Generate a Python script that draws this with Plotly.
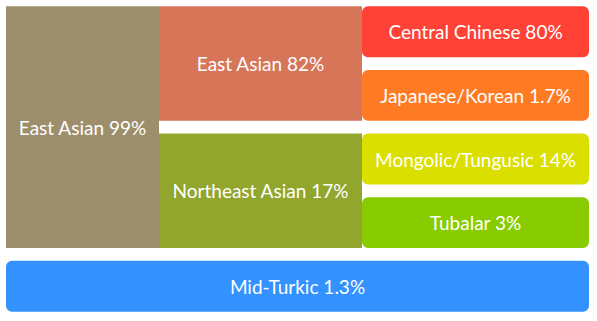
import plotly.graph_objects as go

# ---- data ----
ids = ["ea99", "ea82", "cc", "jk", "nea", "mt", "tub", "mid"]
labels = ["East Asian", "East Asian", "Central Chinese", "Japanese/Korean",
          "Northeast Asian", "Mongolic/Tungusic", "Tubalar", "Mid-Turkic"]
parents = ["", "ea99", "ea82", "ea82", "ea99", "nea", "nea", ""]
percents = [99, 82, 80, 1.7, 17, 14, 3, 1.3]

# ---- style ----
colors = {"ea99": "#9D8E6C", "ea82": "#D67558", "cc": "#FF4136", "jk": "#FF7B23",
          "nea": "#92A62E", "mt": "#DADF00", "tub": "#88CC00", "mid": "#3392FF"}
col_widths = [153, 203, 227]   # width of each hierarchy level column
row_fill = 0.8                 # fraction of a row occupied by a cell

# ---- layout of the hierarchy (computed from the data) ----
children = {i: [c for c, p in zip(ids, parents) if p == i] for i in ids}
roots = [i for i, p in zip(ids, parents) if p == ""]
info = {}
row = [0]


def walk(node, depth):
    start = row[0]
    if not children[node]:
        row[0] += 1
    for ch in children[node]:
        walk(ch, depth + 1)
    info[node] = (depth, start, row[0] - start)


for r in roots:
    walk(r, 0)
n_rows = row[0]


def fmt(p):
    return f"{p:g}%"


traces = {True: dict(y=[], x=[], base=[], width=[], text=[], color=[]),
          False: dict(y=[], x=[], base=[], width=[], text=[], color=[])}
for nid, lab, pct in zip(ids, labels, percents):
    depth, start, n = info[nid]
    leaf = not children[nid]
    base = sum(col_widths[:depth])
    length = sum(col_widths[depth:]) if leaf else col_widths[depth]
    t = traces[leaf]
    t["y"].append(start + n / 2)
    t["width"].append(n - (1 - row_fill))
    t["base"].append(base)
    t["x"].append(length)
    t["text"].append(f"{lab} {fmt(pct)}")
    t["color"].append(colors[nid])

fig = go.Figure()
for leaf in (False, True):
    t = traces[leaf]
    fig.add_trace(go.Bar(
        orientation="h", y=t["y"], x=t["x"], base=t["base"], width=t["width"],
        text=t["text"], textposition="inside", insidetextanchor="middle",
        textangle=0, constraintext="none",
        textfont=dict(family="Lato", size=19, color="white"),
        marker=dict(color=t["color"], line=dict(width=0),
                    cornerradius=6 if leaf else 0),
        hoverinfo="text", showlegend=False,
    ))

fig.update_layout(
    width=597, height=321,
    margin=dict(l=6, r=8, t=0, b=3),
    barmode="overlay",
    paper_bgcolor="white", plot_bgcolor="white",
    xaxis=dict(range=[0, sum(col_widths)], visible=False, fixedrange=True),
    yaxis=dict(range=[n_rows, 0], visible=False, fixedrange=True),
    uniformtext=dict(minsize=19, mode="show"),
)

fig.write_html("out.html")
